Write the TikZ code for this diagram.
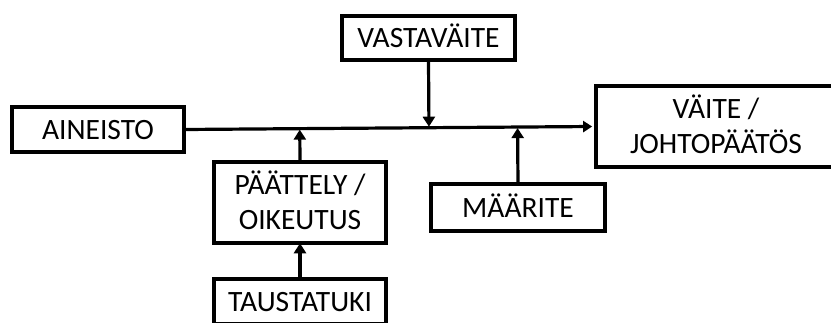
\documentclass[tikz,border=0pt]{standalone}
\usepackage{fontspec}
\setmainfont{Carlito}
\usetikzlibrary{arrows.meta,calc}
\begin{document}
\begin{tikzpicture}[x=1pt,y=-1pt,
  box/.style={draw, line width=3.6pt, rectangle, inner sep=0pt,
    font=\fontsize{29.5}{35.5}\selectfont, text height=19pt, text depth=0pt, align=center},
  two/.style={text height=54.5pt, text depth=0pt},
  arr/.style={line width=3.2pt, -{Triangle[width=12pt,length=10pt]}}]
\useasboundingbox (0,0) rectangle (831,322);
\clip (0,0) rectangle (831,322);
\node[box, minimum width=172.5pt, minimum height=45.5pt] (ain) at (98,129.5) {AINEISTO};
\node[box, minimum width=173.5pt, minimum height=44.5pt] (vas) at (428.5,38) {VASTAVÄITE};
\node[box, two, minimum width=172.5pt, minimum height=81.5pt] (pa) at (300,202.5) {PÄÄTTELY /\\OIKEUTUS};
\node[box, minimum width=172.5pt, minimum height=44.5pt] (tau) at (300,301.5) {TAUSTATUKI};
\node[box, minimum width=174.5pt, minimum height=47.5pt] (maa) at (518,207.5) {MÄÄRITE};
\node[box, two, minimum width=240.5pt, minimum height=81.5pt] (vai) at (716,126.5) {VÄITE /\\JOHTOPÄÄTÖS};
\coordinate (ls) at ($(ain.east)+(-1.8,0)$);
\coordinate (le) at ($(vai.west)+(-1.8,0)$);
\draw[line width=3.2pt, -{Triangle[width=11pt,length=9pt]}] (ls) -- (le);
\coordinate (p1) at ($(ls)!(pa.north)!(le)$);
\coordinate (p2) at ($(ls)!(vas.south)!(le)$);
\coordinate (p3) at ($(ls)!(maa.north)!(le)$);
\draw[arr, shorten >=1pt] ([yshift=-1.8pt]pa.north) -- (p1);
\draw[arr, shorten >=1pt] ([yshift=1.8pt]vas.south) -- (p2);
\draw[arr, shorten >=1pt] ([yshift=-1.8pt]maa.north) -- (p3);
\draw[arr] ([yshift=-1.8pt]tau.north) -- ([yshift=1.8pt]pa.south);
\end{tikzpicture}
\end{document}
